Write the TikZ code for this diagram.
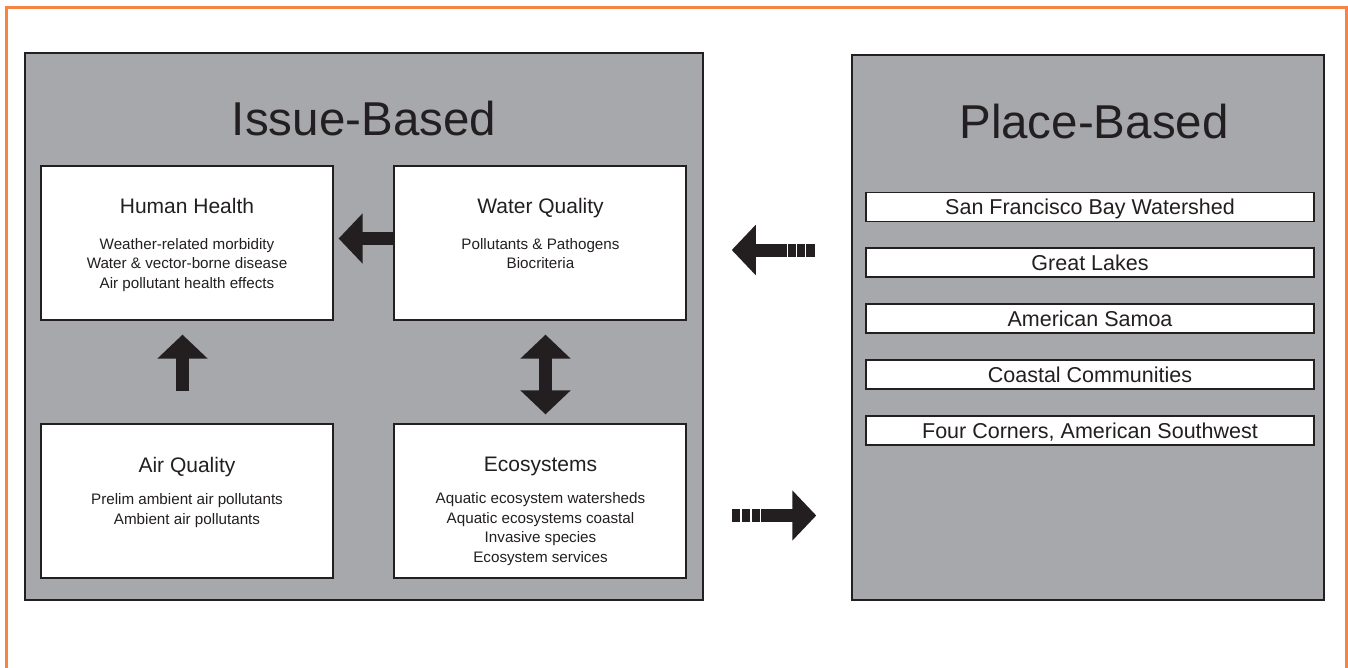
\documentclass[tikz,border=0pt]{standalone}
\usepackage{fontspec}
\setmainfont{Liberation Sans}
\usetikzlibrary{arrows.meta}
\definecolor{panelgray}{HTML}{A7A8AB}
\definecolor{ink}{HTML}{231F20}
\definecolor{frameorange}{HTML}{F58542}
\tikzset{
  panel/.style={draw=ink, line width=1.5pt, fill=panelgray, inner sep=0pt},
  issuebox/.style={draw=ink, line width=1.3pt, fill=white, inner sep=0pt, minimum width=292pt, minimum height=154pt},
  placebox/.style={draw=ink, line width=1.2pt, fill=white, inner sep=0pt, minimum width=448pt, minimum height=29pt, text height=15.4pt, text depth=0pt, font=\fontsize{21.5}{24}\selectfont, text=ink},
  bigtitle/.style={font=\fontsize{47.5}{50}\selectfont, text=ink, anchor=base},
  boxtitle/.style={font=\fontsize{21}{24}\selectfont, text=ink, anchor=base},
  boxtext/.style={font=\fontsize{15.2}{19.5}\selectfont, text=ink, anchor=base, align=center},
  blockarrow/.style={draw=ink, line width=13pt, -{Triangle[width=49pt,length=24pt,fill=ink]}},
  dblarrow/.style={draw=ink, line width=13pt, {Triangle[width=49pt,length=24pt,fill=ink]}-{Triangle[width=49pt,length=24pt,fill=ink]}}
}
\begin{document}
\begin{tikzpicture}[x=1pt,y=-1pt]
\useasboundingbox (0,0) rectangle (1348,667);
\fill[white] (0,0) rectangle (1348,667);
% orange frame
\draw[frameorange, line width=3pt] (6.5,700) -- (6.5,7) -- (1346.5,7) -- (1346.5,700);

% panels
\node[panel, minimum width=678pt, minimum height=547pt] (issue) at (364,326.5) {};
\node[panel, minimum width=472pt, minimum height=545pt] (place) at (1088,327.5) {};

\node[bigtitle] (issuetitle) at (364,135) {Issue-Based};
\node[bigtitle] (placetitle) at (1094,138) {Place-Based};

% issue boxes
\node[issuebox] (hh) at (187,243) {};
\node[issuebox] (wq) at (540,243) {};
\node[issuebox] (aq) at (187,501) {};
\node[issuebox] (eco) at (540,501) {};

% multi-line texts: anchor base = baseline of last line
\node[boxtitle] (hht) at (187,213) {Human Health};
\node[boxtext] (hhx) at (187,288) {Weather-related morbidity\\Water \& vector-borne disease\\Air pollutant health effects};
\node[boxtitle] (wqt) at (540.5,213) {Water Quality};
\node[boxtext] (wqx) at (540.5,268.5) {Pollutants \& Pathogens\\Biocriteria};
\node[boxtitle] (aqt) at (187,472) {Air Quality};
\node[boxtext] (aqx) at (187,524) {Prelim ambient air pollutants\\Ambient air pollutants};
\node[boxtitle] (ecot) at (540.5,471) {Ecosystems};
\node[boxtext] (ecox) at (540.5,562) {Aquatic ecosystem watersheds\\Aquatic ecosystems coastal\\Invasive species\\Ecosystem services};

% place boxes
\node[placebox] (sf) at (1090,207) {San Francisco Bay Watershed};
\node[placebox] (gl) at (1090,262.5) {Great Lakes};
\node[placebox] (as) at (1090,318.5) {American Samoa};
\node[placebox] (cc) at (1090,374.5) {Coastal Communities};
\node[placebox] (fc) at (1090,430.5) {Four Corners, American Southwest};

% arrows inside issue panel
\draw[blockarrow, shorten >=5pt] (wq.west |- 0,238.5) -- (hh.east |- 0,238.5);
\draw[blockarrow, shorten <=32pt, shorten >=14pt] ([xshift=-4.5pt]aq.north) -- ([xshift=-4.5pt]hh.south);
\draw[dblarrow, shorten <=14pt, shorten >=9pt] ([xshift=5.5pt]wq.south) -- ([xshift=5.5pt]eco.north);

% arrows between panels
\draw[blockarrow, dash pattern=on 9pt off 1.5pt on 7.5pt off 1.2pt on 8pt off 1.2pt on 300pt, shorten <=36pt, shorten >=28pt]
  (place.west |- 0,250) -- (issue.east |- 0,250);
\draw[blockarrow, dash pattern=on 8.5pt off 1.5pt on 8.5pt off 1.5pt on 8.5pt off 1pt on 300pt, shorten <=28pt, shorten >=35pt]
  (issue.east |- 0,515.5) -- (place.west |- 0,515.5);
\end{tikzpicture}
\end{document}
